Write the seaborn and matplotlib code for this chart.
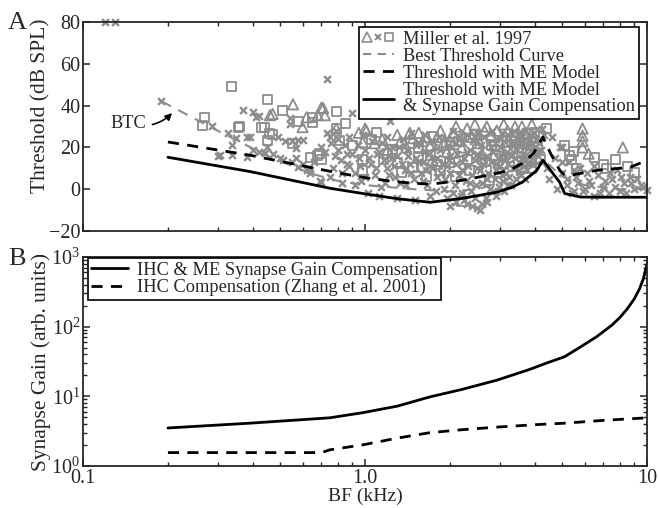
import numpy as np
import pandas as pd
import matplotlib
matplotlib.use("Agg")
import matplotlib.pyplot as plt
import matplotlib.ticker as mticker
from matplotlib.lines import Line2D
from matplotlib.legend_handler import HandlerTuple
import seaborn as sns

# ---------------- data ----------------
# Miller et al. 1997 data, three marker groups (BF kHz, threshold dB SPL)
x_freq = [0.12, 0.13, 0.189, 0.286, 0.30, 0.306, 0.327, 0.337, 0.337, 0.35, 0.37, 0.38, 0.38, 0.39, 0.40, 0.40,
          0.41, 0.42, 0.42, 0.44, 0.45, 0.47, 0.49, 0.50, 0.51, 0.52, 0.54, 0.54, 0.55, 0.55, 0.57, 0.57, 0.58,
          0.58, 0.60, 0.60, 0.62, 0.64, 0.64, 0.66, 0.69, 0.70, 0.70, 0.72, 0.73, 0.73, 0.75, 0.75, 0.76, 0.78,
          0.79, 0.80, 0.82, 0.83, 0.85, 0.86, 0.88, 0.90, 0.92, 0.95, 0.97, 1.0, 1.02, 1.05, 1.08, 1.1, 1.12,
          1.15, 1.18, 1.2, 1.23, 1.25, 1.28, 1.3, 1.32, 1.35, 1.4, 1.42, 1.45, 1.5, 1.52, 1.55, 1.6, 1.62, 1.65,
          1.7, 1.72, 1.75, 1.8, 1.85, 1.9, 1.95, 2.0, 2.05, 2.1, 2.15, 2.2, 2.25, 2.3, 2.35, 2.4, 2.45, 2.5,
          2.55, 2.6, 2.6, 2.7, 2.8, 2.85, 2.9, 3.0, 3.05, 3.1, 3.2, 3.3, 3.4, 3.5, 3.6, 3.7, 3.8, 3.9, 4.1, 4.3,
          4.6, 4.9, 5.0, 5.0, 5.2, 5.3, 5.5, 5.6, 5.8, 6.0, 6.2, 6.5, 6.7, 7.0, 7.3, 7.5, 7.8, 8.0, 8.3, 8.7,
          9.0, 9.5, 10.0,
          1.92, 1.95, 1.98, 2.0, 2.02, 2.05, 2.08, 2.1, 2.12, 2.15, 2.18, 2.2, 2.22, 2.25, 2.28, 2.3, 2.32,
          2.35, 2.38, 2.4, 2.42, 2.45, 2.48, 2.5, 2.52, 2.55, 2.58, 2.6, 2.62, 2.65, 2.68, 2.7, 2.72, 2.75,
          2.78, 2.8, 2.82, 2.85, 2.88, 2.9, 2.92, 2.95, 2.98, 3.0, 3.02, 3.05, 3.08, 3.1, 3.12, 3.15, 3.18,
          3.2, 3.22, 3.25, 3.28, 3.3, 3.32, 3.35, 3.38, 3.4, 3.42, 3.45, 3.48, 3.5, 3.52, 3.55, 3.58, 3.6,
          3.62, 3.65, 3.68, 3.7, 3.72, 3.75, 3.78, 3.8, 3.82, 3.85, 3.88, 3.9, 3.92, 3.95, 3.98, 4.0, 4.05,
          4.1, 4.15, 4.2, 4.25,
          0.77, 0.8, 0.83, 0.86, 0.88, 0.9, 0.92, 0.94, 0.96, 0.98, 1.0, 1.03, 1.06, 1.09, 1.12, 1.14, 1.17,
          1.2, 1.22, 1.25, 1.27, 1.3, 1.33, 1.36, 1.38, 1.41, 1.44, 1.46, 1.49, 1.52, 1.55, 1.58, 1.61, 1.63,
          1.66, 1.69, 1.72, 1.75, 1.78, 1.8, 1.83, 1.86, 1.88,
          1.95, 2.1, 2.2, 2.3, 2.45, 2.5, 2.7, 2.9, 3.1, 2.0,
          4.4, 4.5, 4.7, 4.8, 5.0, 5.2, 5.4, 5.5, 5.7, 5.9, 6.1, 6.3, 6.5, 6.8, 7.1, 7.4, 7.7, 8.1, 8.4, 8.8,
          9.2, 9.7]
x_db = [80, 80, 42, 30, 15.8, 16.3, 26.8, 21, 16.3, 24.4, 37.8, 25, 15.3, 25, 37, 19,
        34.4, 35, 18, 17.5, 20, 17, 25, 15, 14, 23, 34, 31, 23, 13, 19.6, 15, 23.4,
        10.5, 23.4, 12, 9, 9, 7.6, 13, 4, 3.4, 20, 18, 52.6, 27, 25, 6, 22, 16,
        28, 19, 14, 3, 21, 17, 11, 36.4, 8, 15, 4, 19, -2, 12, 7, 17, -3,
        22, 3, 10, 32.5, 15, 6, -4, 20, 12, 2, 16, 8, -5, 21, 13, 4, 18, 9,
        -3, 23, 14, 6, 19, 0, 11, 16, -2, 22, 7, 13, -5, 18, 3, -8, 25, 10,
        -10, -7, 15, 5, 20, -1, 12, 24, 7, 17, 2, 22, 10, 27, 15, 5, 20, 12, 18, 26,
        25, 20, 20, 8, 2, 13, -1, 6, 10, 0, 4, -3, 7, 1, -2, 5, 9, -1, 3, 6,
        0, 2, -0.5,
        5, 24, 14, 8, 20, 28, 2, 12, 17, 25, -3, 9, 22, 15, 4, 26, 11,
        19, -1, 7, 23, 14, 2, 17, 27, 9, 21, 3, 12, 25, -4, 16, 8, 22,
        0, 13, 28, 18, 5, 24, 9, 15, 1, 20, 11, 27, 4, 14, 23, 8, 18,
        12, 26, 6, 16, 2, 21, 10, 28, 15, 5, 19, 24, 9, 13, 22, 7, 25,
        17, 11, 20, 28, 14, 9, 23, 16, 12, 26, 19, 15, 22, 18, 27, 20, 24,
        16, 22, 19, 29,
        10, 24, 8, 12, 25, 17, 2, 21, 11, 26, 6, 15, 23, 10, 18, 1, 14,
        25, 7, 20, 11, 16, 3, 24, 9, 19, 12, 27, 5, 15, 22, 8, 13, 26,
        2, 17, 10, 20, -1, 15, 25, 8, 12,
        -4, -6, -2, -7, -4, -9, -6, -3, -1, -8,
        10, 5, 15, 0, 13, 5, -2, 9, 3, -1, 8, 2, 11, -2, 4, 8, 1, 6, -2, 3,
        5, 1]

sq_freq = [0.266, 0.27, 0.337, 0.357, 0.36, 0.43, 0.44, 0.45, 0.45, 0.46, 0.47, 0.51, 0.555, 0.58, 0.64,
           0.65, 0.65, 0.68, 0.69, 0.70, 0.79, 0.79, 0.81, 0.85, 0.98, 0.98, 1.05, 1.16, 1.25, 1.35, 1.47,
           1.55, 1.6, 1.7, 1.8, 1.85, 1.95, 2.1, 2.2, 2.3, 2.5, 2.7, 2.9, 3.1, 3.3, 3.6, 4.0, 4.2, 5.1, 5.3,
           5.4, 5.5, 5.6, 6.5, 7.0, 7.2, 7.7, 8.5, 9.0,
           0.9, 1.1, 1.3, 1.45, 1.65, 1.75, 2.0, 2.15, 2.35, 2.45, 2.6, 2.8, 3.0, 3.2, 3.4, 3.5, 3.7, 3.9,
           4.1, 4.4, 2.05, 2.75, 3.25, 1.2, 1.55]
sq_db = [30.6, 34.5, 49, 29.7, 30, 29.7, 29.7, 43, 23.4, 26.8, 26.3, 37.8, 22, 32.5, 15,
         34.4, 32, 16, 17, 14, 37.3, 29, 23.4, 31.6, 14, 9, 24, 14, 19, 8, 10.5,
         20, 10.5, 16, 12, 9, 21, 6, -6, 14, 19, 9, 16, 12, 23, 18, 27, 14, 21, 16,
         14, 18, 10, 15, 12, 10, 14, 11, 8,
         21, 27, 13, 22, 6, 25, 13, 23, 9, 26, 14, 21, 8, 18, 25, 13, 22, 10,
         20, 29, 17, 4, 15, 17, 15]

tri_freq = [0.46, 0.47, 0.555, 0.60, 0.62, 0.68, 0.70, 0.71, 0.72, 0.79, 0.98, 1.0, 1.01, 1.08, 1.2, 1.3,
            1.33, 1.44, 1.48, 1.6, 1.66, 1.73, 1.8, 1.85, 1.9, 2.05, 2.2, 2.3, 2.5, 2.6, 2.7, 2.93, 3.1,
            3.3, 3.5, 3.6, 3.8, 5.9, 5.9, 5.9, 5.9, 6.2, 8.2,
            0.95, 1.15, 1.4, 1.55, 1.7, 2.0, 2.1, 2.4, 2.45, 2.55, 2.8, 3.0, 3.2, 3.4, 3.7, 3.9, 4.0,
            2.2, 2.65, 3.05, 3.55, 1.95]
tri_db = [35.4, 36, 40.6, 29.7, 34.4, 35.4, 39, 38.8, 35.4, 29, 22.5, 29, 28, 22, 18.7, 26,
          22.5, 27, 24.4, 23, 25, 14, 25, 28, 22.5, 27, 20, 29, 26, 17, 30, 28, 31,
          26, 20, 30, 24, 29, 25.6, 23, 20, 17, 20,
          27, 24, 20, 27, 21, 23, 30, 25, 31, 22, 26, 23, 28, 30, 27, 31, 25,
          26, 28, 19, 25, 18]

# Best threshold curve
btc_freq = [0.19, 0.3, 0.45, 0.64, 0.8, 1.0, 1.5, 2.0, 2.5, 3.0, 3.5, 4.0, 4.3, 5.0, 6.0, 8.0, 10.0]
btc_db = [42, 28, 16, 7.6, 4, 2, 0, -1, 0, 3, 7, 12, 14, 6, 2, 0, 0]

# Threshold with ME model
me_freq = [0.2, 0.39, 0.75, 0.98, 1.3, 1.7, 2.22, 2.93, 3.3, 3.61, 3.95, 4.27, 4.55, 4.9, 5.1, 5.5,
           6.6, 8.7, 10.0]
me_db = [22.6, 16.3, 8.6, 5.7, 3.5, 2.4, 4.3, 7.6, 9.5, 12.4, 17, 25, 17, 9.1, 6.7, 7.0,
         9.0, 10.5, 13.9]

# Threshold with ME model & synapse gain compensation
sg_freq = [0.2, 0.39, 0.75, 0.98, 1.3, 1.7, 2.22, 2.93, 3.3, 3.61, 4.06, 4.27, 4.55, 4.9, 5.1, 5.8,
           7.0, 10.0]
sg_db = [15.3, 8.5, 0.5, -2, -4.5, -6.2, -4.3, -1.4, 0.8, 3.4, 9, 13.9, 9, 3.3, -2, -3.7,
         -3.8, -3.8]

# Panel B: synapse gain
gain_freq = [0.2, 0.39, 0.75, 0.98, 1.3, 1.7, 2.2, 2.93, 3.8, 4.4, 5.1, 5.8, 6.6, 7.5, 8.0, 8.5,
             9.0, 9.4, 9.7, 10.0]
gain_me = [3.5, 4.1, 4.9, 5.8, 7.2, 9.8, 12.5, 17, 24, 30, 37, 51, 71, 105, 135, 180,
           250, 350, 490, 800]

zhang_freq = [0.2, 0.4, 0.7, 0.75, 0.98, 1.3, 1.7, 2.2, 2.93, 4.0, 5.1, 7.0, 10.0]
zhang_gain = [1.55, 1.55, 1.55, 1.7, 2.0, 2.5, 3.0, 3.3, 3.6, 3.9, 4.1, 4.5, 4.9]

xtick_vals = [0.1, 1.0, 10.0]
xtick_labels = ["0.1", "1.0", "10"]

legA_labels = ["Miller et al. 1997", "Best Threshold Curve", "Threshold with ME Model",
               "Threshold with ME Model\n& Synapse Gain Compensation"]
legB_labels = ["IHC & ME Synapse Gain Compensation", "IHC Compensation (Zhang et al. 2001)"]

# ---------------- style ----------------
sns.set_theme(style="ticks")
plt.rcParams['font.family'] = ['Liberation Serif', 'DejaVu Serif']
plt.rcParams['mathtext.fontset'] = 'stix'
plt.rcParams['axes.linewidth'] = 1.3
plt.rcParams['xtick.direction'] = 'in'
plt.rcParams['ytick.direction'] = 'in'

GRAY = "#8c8c8c"
FS_TICK = 14.5
FS_YLAB = 15.5
FS_XLAB = 14
FS_LEG = 13.2

fig = plt.figure(figsize=(6.59, 5.08), dpi=100)
axA = fig.add_axes([0.126, 0.545, 0.856, 0.412])
axB = fig.add_axes([0.126, 0.083, 0.856, 0.411])

# ---------------- panel A ----------------
dfx = pd.DataFrame({"f": x_freq, "db": x_db})
dfs = pd.DataFrame({"f": sq_freq, "db": sq_db})
dft = pd.DataFrame({"f": tri_freq, "db": tri_db})

sns.scatterplot(data=dfx, x="f", y="db", marker="x", color=GRAY, s=24, linewidth=1.7, ax=axA,
                zorder=2, clip_on=False)
sns.scatterplot(data=dfs, x="f", y="db", marker="s", facecolor="none", edgecolor=GRAY, s=42,
                linewidth=1.3, ax=axA, zorder=2)
sns.scatterplot(data=dft, x="f", y="db", marker="^", facecolor="none", edgecolor=GRAY, s=55,
                linewidth=1.3, ax=axA, zorder=2)

sns.lineplot(x=btc_freq, y=btc_db, color=GRAY, linestyle=(0, (5, 4)), linewidth=1.5, ax=axA,
             zorder=3, sort=False)
sns.lineplot(x=me_freq, y=me_db, color="black", linestyle=(0, (4, 3)), linewidth=2.0, ax=axA,
             zorder=4, sort=False)
sns.lineplot(x=sg_freq, y=sg_db, color="black", linewidth=2.0, ax=axA, zorder=4, sort=False)

axA.set_xscale("log")
axA.set_xlim(0.1, 10)
axA.set_ylim(-20, 80)
axA.set_yticks([-20, 0, 20, 40, 60, 80])
axA.set_xticks(xtick_vals)
axA.set_xticklabels([])
axA.set_xlabel("")
axA.set_ylabel("Threshold (dB SPL)", fontsize=FS_YLAB)
axA.yaxis.set_label_coords(-0.057, 0.60)
axA.tick_params(which="both", direction="in", top=True, right=True, labelsize=FS_TICK)
axA.tick_params(which="major", length=5, width=1.1, pad=2)
axA.tick_params(which="minor", length=3, width=1.0)

hA = [(Line2D([], [], marker="^", ls="", mfc="none", mec=GRAY, ms=7, mew=1.2),
       Line2D([], [], marker="x", ls="", color=GRAY, ms=5, mew=1.5),
       Line2D([], [], marker="s", ls="", mfc="none", mec=GRAY, ms=6, mew=1.2)),
      Line2D([], [], color=GRAY, ls=(0, (4, 3)), lw=1.5),
      Line2D([], [], color="black", ls=(0, (4, 3)), lw=2.0),
      Line2D([], [], color="black", lw=2.0)]
legA = axA.legend(hA, legA_labels, loc="upper right", bbox_to_anchor=(0.985, 0.975),
                  fontsize=FS_LEG, frameon=True, fancybox=False, edgecolor="black",
                  framealpha=1, handlelength=1.7, handletextpad=0.5, labelspacing=0.0,
                  borderpad=0.2, borderaxespad=0.0,
                  handler_map={tuple: HandlerTuple(ndivide=None, pad=0.1)})
legA.get_frame().set_linewidth(1.2)
for t in legA.get_texts():
    t.set_linespacing(0.95)

axA.annotate("BTC", xy=(0.207, 36.4), xytext=(0.145, 31.6), ha="center", va="center",
             fontsize=FS_LEG,
             arrowprops=dict(arrowstyle="-|>", connectionstyle="arc3,rad=0.3", color="black",
                             lw=1.2, shrinkA=2, shrinkB=0, mutation_scale=10))

fig.text(0.012, 0.955, "A", fontsize=19, ha="left", va="center")

# ---------------- panel B ----------------
sns.lineplot(x=gain_freq, y=gain_me, color="black", linewidth=2.0, ax=axB, sort=False)
sns.lineplot(x=zhang_freq, y=zhang_gain, color="black", linestyle=(0, (4, 3)), linewidth=2.0,
             ax=axB, sort=False)
axB.set_xscale("log")
axB.set_yscale("log")
axB.set_xlim(0.1, 10)
axB.set_ylim(1, 1000)
axB.xaxis.set_major_locator(mticker.FixedLocator(xtick_vals))
axB.xaxis.set_major_formatter(mticker.FixedFormatter(xtick_labels))
axB.xaxis.set_minor_formatter(mticker.NullFormatter())
axB.yaxis.set_major_locator(mticker.LogLocator(base=10, numticks=10))
axB.set_xlabel("BF (kHz)", fontsize=FS_XLAB, labelpad=0)
axB.set_ylabel("Synapse Gain (arb. units)", fontsize=FS_YLAB)
axB.yaxis.set_label_coords(-0.056, 0.5)
axB.tick_params(which="both", direction="in", top=True, right=True, labelsize=FS_TICK)
axB.tick_params(which="major", length=5, width=1.1, pad=2)
axB.tick_params(which="minor", length=3, width=1.0)

hB = [Line2D([], [], color="black", lw=2.0), Line2D([], [], color="black", ls=(0, (4, 3)), lw=2.0)]
legB = axB.legend(hB, legB_labels, loc="upper left", bbox_to_anchor=(0.008, 0.995),
                  fontsize=FS_LEG, frameon=True, fancybox=False, edgecolor="black",
                  framealpha=1, handlelength=2.0, handletextpad=0.5, labelspacing=0.0,
                  borderpad=0.2, borderaxespad=0.0)
legB.get_frame().set_linewidth(1.2)

fig.text(0.012, 0.49, "B", fontsize=19, ha="left", va="center")

fig.savefig("out.png", dpi=100)
